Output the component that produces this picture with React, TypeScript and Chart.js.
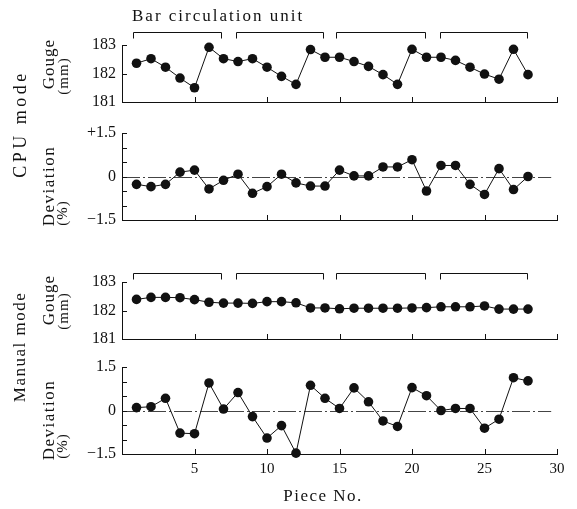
import React, { useEffect, useRef } from 'react';
import { Chart, registerables } from 'chart.js';

Chart.register(...registerables);

// ---------- data ----------
const pieceNo = [1, 2, 3, 4, 5, 6, 7, 8, 9, 10, 11, 12, 13, 14, 15, 16, 17, 18, 19, 20, 21, 22, 23, 24, 25, 26, 27, 28];
const cpuGauge = [182.36, 182.52, 182.22, 181.84, 181.5, 182.92, 182.52, 182.42, 182.52, 182.22, 181.9, 181.62, 182.84, 182.57, 182.57, 182.42, 182.25, 181.96, 181.62, 182.85, 182.57, 182.57, 182.46, 182.22, 181.98, 181.8, 182.85, 181.96];
const cpuDeviation = [-0.27, -0.35, -0.27, 0.15, 0.22, -0.43, -0.13, 0.08, -0.58, -0.35, 0.08, -0.22, -0.33, -0.33, 0.22, 0.02, 0.02, 0.33, 0.33, 0.58, -0.5, 0.38, 0.38, -0.27, -0.62, 0.27, -0.45, 0.0];
const manualGauge = [182.39, 182.46, 182.46, 182.45, 182.38, 182.29, 182.26, 182.26, 182.25, 182.31, 182.31, 182.27, 182.09, 182.09, 182.06, 182.08, 182.08, 182.08, 182.08, 182.09, 182.1, 182.13, 182.13, 182.13, 182.16, 182.05, 182.05, 182.05];
const manualDeviation = [0.1, 0.13, 0.42, -0.78, -0.8, 0.95, 0.05, 0.62, -0.21, -0.95, -0.52, -1.47, 0.87, 0.42, 0.07, 0.78, 0.3, -0.36, -0.55, 0.79, 0.51, 0.0, 0.07, 0.07, -0.61, -0.3, 1.13, 1.02];

const gaugeTickValues = [181, 182, 183];
const deviationTickValues = [-1.5, 0, 1.5];
const deviationMinorTicks = [-1.5, -1, -0.5, 0, 0.5, 1, 1.5];
const xTickValues = [5, 10, 15, 20, 25, 30];
const unitStarts = [0.75, 7.85, 14.75, 21.9];
const unitEnds = [6.85, 13.85, 20.9, 27.9];

// ---------- styling ----------
const W = 577;
const H = 509;
const PLOT_LEFT = 122;
const PLOT_RIGHT = 557;
const X_LABEL_BAND = 30;
const INK = '#111111';
const SERIF = '"Liberation Serif", "Times New Roman", serif';

type TextItem = { text: string; x: number; y: number; rot?: boolean; size: number; spacing?: number; align?: CanvasTextAlign };

const decorPlugin = {
  id: 'decor',
  beforeDatasetsDraw(chart: any, _args: any, opts: any) {
    if (!opts || !opts.zeroLine) return;
    const ctx = chart.ctx;
    const xs = chart.scales.x;
    const ys = chart.scales.y;
    const py = Math.round(ys.getPixelForValue(0)) + 0.5;
    ctx.save();
    ctx.strokeStyle = '#444';
    ctx.lineWidth = 1;
    ctx.setLineDash([18, 3, 2, 3]);
    ctx.beginPath();
    ctx.moveTo(chart.chartArea.left, py);
    ctx.lineTo(xs.getPixelForValue(opts.zeroLineEnd), py);
    ctx.stroke();
    ctx.restore();
  },
  afterDraw(chart: any, _args: any, opts: any) {
    if (!opts) return;
    const ctx = chart.ctx;
    const xs = chart.scales.x;
    const ys = chart.scales.y;
    const { left, top, bottom } = chart.chartArea;
    ctx.save();
    ctx.strokeStyle = INK;
    ctx.lineWidth = 1;
    ctx.beginPath();
    for (const v of xTickValues) {
      const px = Math.round(xs.getPixelForValue(v)) + 0.5;
      ctx.moveTo(px, bottom);
      ctx.lineTo(px, bottom - 5);
    }
    for (const v of opts.yTicks as number[]) {
      const py = Math.round(ys.getPixelForValue(v)) + 0.5;
      ctx.moveTo(left, py);
      ctx.lineTo(left + 5, py);
    }
    ctx.stroke();

    if (opts.brackets) {
      const by = Math.round(top - opts.bracketOffset) + 0.5;
      ctx.beginPath();
      for (let i = 0; i < unitStarts.length; i++) {
        const x0 = Math.round(xs.getPixelForValue(unitStarts[i])) + 0.5;
        const x1 = Math.round(xs.getPixelForValue(unitEnds[i])) + 0.5;
        ctx.moveTo(x0, by + 6);
        ctx.lineTo(x0, by);
        ctx.lineTo(x1, by);
        ctx.lineTo(x1, by + 6);
      }
      ctx.stroke();
    }

    ctx.fillStyle = INK;
    for (const t of (opts.texts || []) as TextItem[]) {
      ctx.save();
      ctx.font = `${t.size}px ${SERIF}`;
      try { (ctx as any).letterSpacing = `${t.spacing || 0}px`; } catch (e) { /* ignore */ }
      ctx.textBaseline = 'middle';
      ctx.textAlign = t.align || 'center';
      ctx.translate(t.x, t.y);
      if (t.rot) ctx.rotate(-Math.PI / 2);
      ctx.fillText(t.text, 0, 0);
      ctx.restore();
    }
    ctx.restore();
  },
};

type Panel = {
  values: number[];
  top: number;
  bottom: number;
  min: number;
  max: number;
  tickValues: number[];
  minorTicks: number[];
  labelFor: (v: number) => string;
  showX: boolean;
  zeroLine: boolean;
  brackets: boolean;
  bracketOffset: number;
  texts: TextItem[];
};

const panels: Panel[] = [
  {
    values: cpuGauge, top: 45, bottom: 102, min: 181, max: 183,
    tickValues: gaugeTickValues, minorTicks: gaugeTickValues,
    labelFor: (v) => String(v), showX: false, zeroLine: false, brackets: true, bracketOffset: 13,
    texts: [
      { text: 'Bar circulation unit', x: 132, y: 17, size: 17, spacing: 2, align: 'left' },
      { text: 'CPU mode', x: 21, y: 124, rot: true, size: 18, spacing: 3.5 },
      { text: 'Gouge', x: 50, y: 64, rot: true, size: 17, spacing: 1 },
      { text: '(mm)', x: 64, y: 76, rot: true, size: 15, spacing: 1 },
    ],
  },
  {
    values: cpuDeviation, top: 133, bottom: 220, min: -1.5, max: 1.5,
    tickValues: deviationTickValues, minorTicks: deviationMinorTicks,
    labelFor: (v) => (v > 0 ? '+' + v : v < 0 ? '\u2212' + Math.abs(v) : '0'),
    showX: false, zeroLine: true, brackets: false, bracketOffset: 0,
    texts: [
      { text: 'Deviation', x: 50, y: 186, rot: true, size: 17, spacing: 1.5 },
      { text: '(%)', x: 63, y: 213, rot: true, size: 15, spacing: 1 },
    ],
  },
  {
    values: manualGauge, top: 282, bottom: 339, min: 181, max: 183,
    tickValues: gaugeTickValues, minorTicks: gaugeTickValues,
    labelFor: (v) => String(v), showX: false, zeroLine: false, brackets: true, bracketOffset: 9,
    texts: [
      { text: 'Manual mode', x: 21, y: 347, rot: true, size: 17, spacing: 1.5 },
      { text: 'Gouge', x: 50, y: 300, rot: true, size: 17, spacing: 1 },
      { text: '(mm)', x: 64, y: 311, rot: true, size: 15, spacing: 1 },
    ],
  },
  {
    values: manualDeviation, top: 367, bottom: 454, min: -1.5, max: 1.5,
    tickValues: deviationTickValues, minorTicks: deviationMinorTicks,
    labelFor: (v) => (v < 0 ? '\u2212' + Math.abs(v) : String(v)),
    showX: true, zeroLine: true, brackets: false, bracketOffset: 0,
    texts: [
      { text: 'Deviation', x: 50, y: 420, rot: true, size: 17, spacing: 1.5 },
      { text: '(%)', x: 63, y: 446, rot: true, size: 15, spacing: 1 },
      { text: 'Piece No.', x: 323, y: 497, size: 17, spacing: 1.5 },
    ],
  },
];

function makeConfig(p: Panel): any {
  const band = p.showX ? X_LABEL_BAND : 0;
  return {
    type: 'line',
    data: {
      datasets: [
        {
          data: pieceNo.map((n, i) => ({ x: n, y: p.values[i] })),
          borderColor: INK,
          borderWidth: 1,
          pointRadius: 4.8,
          pointBackgroundColor: INK,
          pointBorderColor: INK,
          pointBorderWidth: 0,
          tension: 0,
          clip: false,
        },
      ],
    },
    options: {
      responsive: false,
      animation: false,
      devicePixelRatio: 1,
      events: [],
      layout: { padding: { top: p.top, bottom: H - p.bottom - band, left: 0, right: W - PLOT_RIGHT } },
      plugins: {
        legend: { display: false },
        tooltip: { enabled: false },
        decor: {
          yTicks: p.minorTicks,
          zeroLine: p.zeroLine,
          zeroLineEnd: 29.6,
          brackets: p.brackets,
          bracketOffset: p.bracketOffset,
          texts: p.texts,
        },
      },
      scales: {
        x: {
          type: 'linear',
          min: 0,
          max: 30,
          grid: { display: false, drawTicks: false },
          border: { display: true, color: INK, width: 1 },
          ticks: {
            display: p.showX,
            stepSize: 5,
            autoSkip: false,
            maxRotation: 0,
            padding: 6,
            color: INK,
            font: { family: SERIF, size: 15 },
            callback: (v: number) => (v === 0 ? '' : String(v)),
          },
          afterFit: (s: any) => { s.height = band; },
        },
        y: {
          type: 'linear',
          min: p.min,
          max: p.max,
          grid: { display: false, drawTicks: false },
          border: { display: true, color: INK, width: 1 },
          ticks: {
            padding: 6,
            color: INK,
            font: { family: SERIF, size: 16 },
            callback: (v: number) => p.labelFor(v),
          },
          afterBuildTicks: (s: any) => { s.ticks = p.tickValues.map((v) => ({ value: v })); },
          afterFit: (s: any) => { s.width = PLOT_LEFT; },
        },
      },
    },
    plugins: [decorPlugin],
  };
}

function PanelCanvas({ panel }: { panel: Panel }) {
  const ref = useRef<HTMLCanvasElement | null>(null);
  useEffect(() => {
    if (!ref.current) return;
    const chart = new Chart(ref.current, makeConfig(panel));
    return () => chart.destroy();
  }, [panel]);
  return (
    <canvas
      ref={ref}
      width={W}
      height={H}
      style={{ position: 'absolute', left: 0, top: 0, width: W, height: H }}
    />
  );
}

export default function App() {
  return (
    <div style={{ position: 'absolute', left: 0, top: 0, width: W, height: H, background: '#fff', overflow: 'hidden' }}>
      {panels.map((p, i) => (
        <PanelCanvas key={i} panel={p} />
      ))}
    </div>
  );
}
